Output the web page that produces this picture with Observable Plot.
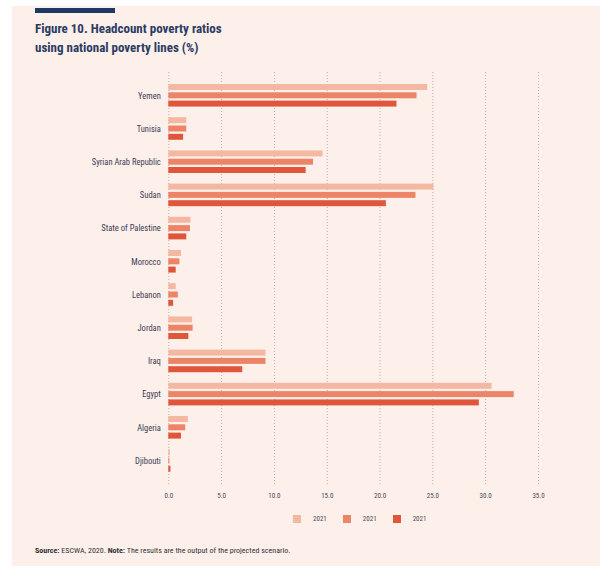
<!DOCTYPE html>
<html>
<head>
<meta charset="utf-8">
<script src="https://cdn.jsdelivr.net/npm/d3@7"></script>
<script src="https://cdn.jsdelivr.net/npm/@observablehq/plot@0.6"></script>
<style>
  html, body { margin: 0; padding: 0; background: #ffffff; }
  body { width: 604px; height: 569px; position: relative; overflow: hidden;
         font-family: "Liberation Sans Narrow", "Roboto Condensed", "DejaVu Sans Condensed", Roboto, sans-serif; }
  #panel { position: absolute; left: 12px; top: 6px; width: 588px; height: 560px; background: #fdefea; }
  #navy { position: absolute; left: 23px; top: 2px; width: 80px; height: 5px; background: #1f3864; }
  #title { position: absolute; left: 23px; top: 13px; font-size: 13px; font-weight: bold; line-height: 19px; color: #2b3c62; }
  #chart { position: absolute; left: 0; top: 56px; }
  #legend { position: absolute; left: 281px; top: 509px; display: flex; align-items: center; font-size: 7px; color: #4a4a5a; }
  #legend .item { display: flex; align-items: center; }
  #legend .sw { width: 8px; height: 8px; margin-right: 12px; }
  #caption { position: absolute; left: 23px; top: 540px; font-size: 8px; color: #333; }
</style>
</head>
<body>
<div id="panel">
  <div id="navy"></div>
  <div id="title">Figure 10. Headcount poverty ratios<br>using national poverty lines (%)</div>
  <div id="chart"></div>
  <div id="legend"></div>
  <div id="caption"><b>Source:</b> ESCWA, 2020. <b>Note:</b> The results are the output of the projected scenario.</div>
</div>
<script>
const countries = ["Yemen","Tunisia","Syrian Arab Republic","Sudan","State of Palestine","Morocco","Lebanon","Jordan","Iraq","Egypt","Algeria","Djibouti"];
const series = ["2021","2021","2021"];
const values1 = [24.5, 1.7, 14.6, 25.1, 2.1, 1.2, 0.7, 2.25, 9.2, 30.6, 1.85, 0.15];
const values2 = [23.5, 1.7, 13.7, 23.4, 2.05, 1.05, 0.9, 2.3, 9.2, 32.7, 1.6, 0.1];
const values3 = [21.6, 1.4, 13.0, 20.6, 1.7, 0.7, 0.45, 1.9, 7.0, 29.4, 1.2, 0.2];
const colors = ["#f4b8a2", "#ec8467", "#e0563b"];
const xTicks = [0, 5, 10, 15, 20, 25, 30, 35];

const allValues = [values1, values2, values3];
const rows = [];
countries.forEach((c, i) => {
  allValues.forEach((vals, k) => {
    rows.push({country: c, k, value: vals[i], key: c + "|" + k});
  });
});
const yDomain = countries.flatMap(c => [c + "|g", c + "|0", c + "|1", c + "|2"]);

const chart = Plot.plot({
  width: 588,
  height: 448,
  marginLeft: 156.3,
  marginRight: 62,
  marginTop: 10,
  marginBottom: 25,
  style: {background: "transparent", fontFamily: "'Liberation Sans Narrow', 'Roboto Condensed', 'DejaVu Sans Condensed', Roboto, sans-serif", fontSize: "7px", color: "#4a4a5a"},
  x: {domain: [0, 35], ticks: xTicks, tickFormat: d => d.toFixed(1), tickSize: 0, tickPadding: 8, label: null},
  y: {domain: yDomain, axis: null, range: [13.7, 409.8], paddingInner: 0.28, paddingOuter: 0, round: false},
  color: {type: "ordinal", domain: [0, 1, 2], range: colors},
  marks: [
    Plot.gridX(xTicks, {stroke: "#a9a0a0", strokeOpacity: 0.8, strokeDasharray: "1,2"}),
    Plot.barX(rows, {x: "value", y: "key", fill: "k"}),
    Plot.text(countries, {x: 0, y: d => d + "|1", text: d => d, textAnchor: "end", dx: -8, fontSize: 8.5, fill: "#3a3d55"})
  ]
});
document.getElementById("chart").appendChild(chart);

const legend = document.getElementById("legend");
legend.innerHTML = "";
series.forEach((s, k) => {
  const item = document.createElement("div");
  item.className = "item";
  item.style.marginLeft = k === 0 ? "0" : "16px";
  const sw = document.createElement("div");
  sw.className = "sw";
  sw.style.background = colors[k];
  const t = document.createElement("span");
  t.textContent = s;
  item.appendChild(sw);
  item.appendChild(t);
  legend.appendChild(item);
});
</script>
</body>
</html>
